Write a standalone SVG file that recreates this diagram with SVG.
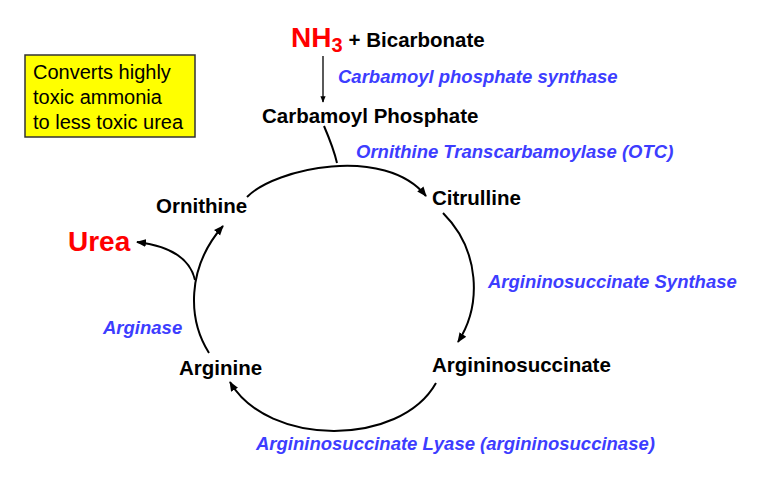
<svg xmlns="http://www.w3.org/2000/svg" width="772" height="498" viewBox="0 0 772 498">
<defs>
<style>
.lbl{font-family:"Liberation Sans",Arial,sans-serif;font-weight:bold;font-size:20.5px;fill:#000}
.enz{font-family:"Liberation Sans",Arial,sans-serif;font-weight:bold;font-style:italic;font-size:18.5px;fill:#3d3dff}
.red{font-family:"Liberation Sans",Arial,sans-serif;font-weight:bold;font-size:28px;fill:#ff0000}
.note{font-family:"Liberation Sans",Arial,sans-serif;font-size:20px;fill:#000}
.c{fill:none;stroke:#000;stroke-width:2}
</style>
<marker id="ah" viewBox="0 0 10 10" refX="9" refY="5" markerWidth="5" markerHeight="5" orient="auto" markerUnits="strokeWidth">
<path d="M0,1 L10,5 L0,9 z" fill="#000"/>
</marker>
</defs>
<rect width="772" height="498" fill="#fff"/>
<g id="note">
<rect x="25" y="55" width="170" height="82" fill="#ffff00" stroke="#333" stroke-width="1.5"/>
<text class="note" x="33" y="79">Converts highly</text>
<text class="note" x="33" y="104">toxic ammonia</text>
<text class="note" x="33" y="129">to less toxic urea</text>
</g>
<g id="nh3">
<text x="291" y="47"><tspan class="red">NH</tspan><tspan class="red" style="font-size:20px" dy="5">3</tspan><tspan class="lbl" dx="6" dy="-5">+ Bicarbonate</tspan></text>
</g>
<g id="carbamoyl"><text class="lbl" x="262" y="123">Carbamoyl Phosphate</text></g>
<g id="citrulline"><text class="lbl" x="432" y="205">Citrulline</text></g>
<g id="argininosuccinate"><text class="lbl" x="432" y="372">Argininosuccinate</text></g>
<g id="arginine"><text class="lbl" x="179" y="375">Arginine</text></g>
<g id="ornithine"><text class="lbl" x="156" y="213">Ornithine</text></g>
<g id="urea"><text class="red" x="68" y="251">Urea</text></g>
<g id="enzymes">
<text class="enz" x="338" y="83">Carbamoyl phosphate synthase</text>
<text class="enz" x="356" y="158">Ornithine Transcarbamoylase (OTC)</text>
<text class="enz" x="488" y="288">Argininosuccinate Synthase</text>
<text class="enz" x="103" y="334">Arginase</text>
<text class="enz" x="256" y="450">Argininosuccinate Lyase (argininosuccinase)</text>
</g>
<g id="connectors">
<path class="c" style="stroke-width:1.3" d="M323,56 L323,102" marker-end="url(#ah)"/>
<path class="c" d="M324,126 C330,140 334,150 337,163"/>
<path class="c" d="M247,197 C275,168 385,145 426,196" marker-end="url(#ah)"/>
<path class="c" d="M443,213 C480,250 482,305 458,342" marker-end="url(#ah)"/>
<path class="c" d="M436,383 C400,447 268,447 230,382" marker-end="url(#ah)"/>
<path class="c" d="M209,353 C188,320 186,268 223,226" marker-end="url(#ah)"/>
<path class="c" d="M195,280 C190,258 170,246 137,242" marker-end="url(#ah)"/>
</g>
</svg>
